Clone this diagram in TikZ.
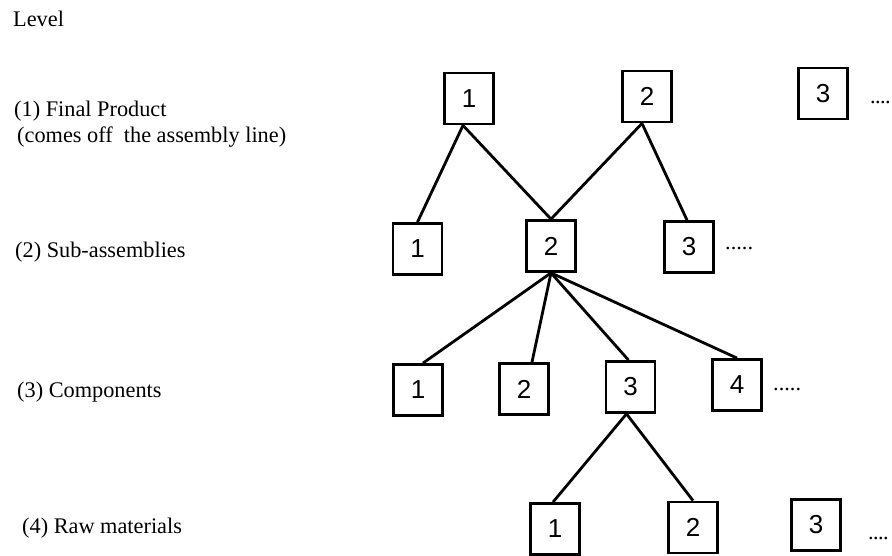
\documentclass[tikz,border=0pt]{standalone}
\usepackage{fontspec}
\setmainfont{Liberation Serif}
\newfontfamily\numfont{Liberation Sans}
% a tight row of four continuation dots
\newcommand{\fourdots}{.\kern-0.6pt.\kern-0.6pt.\kern-0.6pt.}
\begin{document}
\begin{tikzpicture}[x=1pt,y=-1pt,
  part/.style={draw, line width=2.8pt, minimum width=49pt, minimum height=51pt,
    inner sep=0pt, font=\numfont\fontsize{26}{26}\selectfont},
  link/.style={line width=2.8pt},
  lvl/.style={anchor=base west, inner sep=0pt, font=\fontsize{22.3}{26}\selectfont},
  more/.style={anchor=base west, inner sep=0pt, font=\fontsize{22.3}{26}\selectfont}]
\useasboundingbox (0,0) rectangle (892,556);

% level captions
\node[lvl] (cap0) at (13,27) {Level};
\node[lvl] (cap1) at (14,117) {(1) Final Product};
\node[lvl] (cap1b) at (17,143) {(comes off~ the assembly line)};
\node[lvl] (cap2) at (15,258) {(2) Sub-assemblies};
\node[lvl] (cap3) at (17,397) {(3) Components};
\node[lvl] (cap4) at (22,533) {(4) Raw materials};

% final products
\node[part] (p11) at (469,98.5) {1};
\node[part] (p12) at (647,96.5) {2};
\node[part] (p13) at (823,93.5) {3};
\node[more] (d1) at (870,104) {\fourdots};

% sub-assemblies
\node[part] (p21) at (417.5,249) {1};
\node[part] (p22) at (551,246) {2};
\node[part] (p23) at (689,247) {3};
\node[more] (d2) at (725,250) {.....};

% components
\node[part] (p31) at (418,390) {1};
\node[part] (p32) at (524,389) {2};
\node[part] (p33) at (630.5,387) {3};
\node[part] (p34) at (737,385) {4};
\node[more] (d3) at (773,390) {.....};

% raw materials
\node[part] (p41) at (555,529) {1};
\node[part] (p42) at (693,527.5) {2};
\node[part] (p43) at (816,525) {3};
\node[more] (d4) at (868,539) {\fourdots};

% structure links
\draw[link] ([xshift=-6pt]p11.south) -- (p21.north);
\draw[link] ([xshift=-6pt]p11.south) -- (p22.north);
\draw[link] ([xshift=-5pt]p12.south) -- (p22.north);
\draw[link] ([xshift=-5pt]p12.south) -- ([xshift=-2pt]p23.north);
\draw[link] (p22.south) -- ([xshift=5pt]p31.north);
\draw[link] (p22.south) -- ([xshift=8pt]p32.north);
\draw[link] (p22.south) -- ([xshift=-2pt]p33.north);
\draw[link] (p22.south) -- (p34.north);
\draw[link] ([xshift=-4pt]p33.south) -- ([xshift=-2pt]p41.north);
\draw[link] ([xshift=-4pt]p33.south) -- (p42.north);
\end{tikzpicture}
\end{document}
